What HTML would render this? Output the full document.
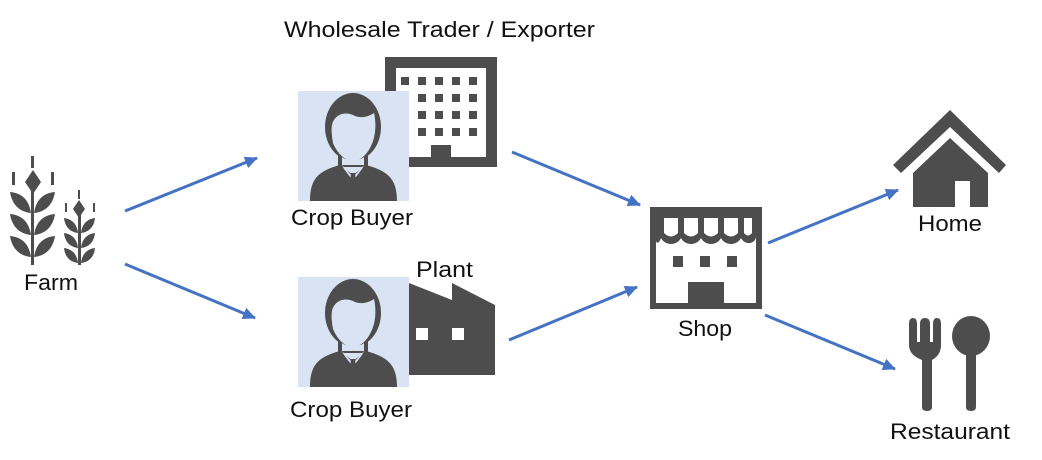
<!DOCTYPE html>
<html><head><style>
body{margin:0;background:#fff;}
svg{display:block;}
text{font-family:"Liberation Sans","Noto Sans CJK JP",sans-serif;font-size:22px;fill:#111;}
</style></head><body>
<svg width="1042" height="460" viewBox="0 0 1042 460">
<defs>
<marker id="a" markerWidth="14" markerHeight="12" refX="12" refY="6" orient="auto" markerUnits="userSpaceOnUse">
<path d="M0,0 L13,6 L0,12 z" fill="#4472c4"/></marker>
<g id="person">
<rect x="0" y="0" width="111" height="110" fill="#dae3f3"/>
<ellipse cx="55" cy="36" rx="28" ry="34" fill="#4d4d4d"/>
<path d="M40,64 L40,76 L70,76 L70,64 Z" fill="#4d4d4d"/>
<path d="M34,34 C36,24 46,20 55,24 C62,28 70,26 76,22 C78,30 78,42 75,50 C71,62 63,70 55,70 C47,70 39,62 35,52 C34,46 33,40 34,34 Z" fill="#dae3f3"/>
<path d="M44,66 L44,74 L66,74 L66,66 C62,70 48,70 44,66 Z" fill="#dae3f3"/>
<path d="M12,110 C12,88 20,80 42,74 L55,84 L68,74 C90,80 99,88 99,110 Z" fill="#4d4d4d"/>
<path d="M44,74 L55,86 L66,74 L64,78 L55,90 L46,78 Z" fill="#dae3f3"/>
<path d="M53,82 L57,82 L59,100 L55,106 L51,100 Z" fill="#4d4d4d"/>
</g>
</defs>

<g stroke="#4472c4" stroke-width="3" fill="none" marker-end="url(#a)">
<line x1="125" y1="211" x2="257" y2="158"/>
<line x1="125" y1="264" x2="255" y2="318"/>
<line x1="512" y1="152" x2="640" y2="205"/>
<line x1="509" y1="340" x2="637" y2="287"/>
<line x1="768" y1="243" x2="898" y2="190"/>
<line x1="765" y1="315" x2="895" y2="369"/>
</g>

<g fill="#4d4d4d">
<rect x="31" y="156" width="3" height="12"/>
<rect x="12" y="172" width="3" height="13"/>
<rect x="51" y="172" width="3" height="13"/>
<path d="M33,170 L41,182 L33,194 L25,182 Z"/>
<rect x="31" y="190" width="3" height="75"/>
<path d="M31,213 C20,212 12,205 10,192 C22,193 29,200 31,213 Z"/>
<path d="M34,213 C45,212 53,205 55,192 C43,193 36,200 34,213 Z"/>
<path d="M31,235 C20,234 12,227 10,214 C22,215 29,222 31,235 Z"/>
<path d="M34,235 C45,234 53,227 55,214 C43,215 36,222 34,235 Z"/>
<path d="M31,257 C20,256 12,249 10,236 C22,237 29,244 31,257 Z"/>
<path d="M34,257 C45,256 53,249 55,236 C43,237 36,244 34,257 Z"/>
<rect x="78" y="190" width="2" height="9"/>
<rect x="65" y="203" width="2" height="9"/>
<rect x="93" y="203" width="2" height="9"/>
<path d="M79,200 L85,209 L79,218 L73,209 Z"/>
<rect x="78" y="215" width="3" height="50"/>
<path d="M78,233 C70,232 65,227 64,218 C72,219 77,224 78,233 Z"/>
<path d="M81,233 C89,232 94,227 95,218 C87,219 82,224 81,233 Z"/>
<path d="M78,248 C70,247 65,242 64,233 C72,234 77,239 78,248 Z"/>
<path d="M81,248 C89,247 94,242 95,233 C87,234 82,239 81,248 Z"/>
<path d="M78,263 C70,262 65,257 64,248 C72,249 77,254 78,263 Z"/>
<path d="M81,263 C89,262 94,257 95,248 C87,249 82,254 81,263 Z"/>
</g>
<text x="24" y="290" textLength="54" lengthAdjust="spacingAndGlyphs">Farm</text>

<rect x="385" y="57" width="112" height="110" fill="#4d4d4d"/>
<rect x="396" y="68" width="90" height="89" fill="#fff"/>
<g fill="#4d4d4d">
<rect x="401" y="77" width="8" height="8"/><rect x="418" y="77" width="8" height="8"/><rect x="435" y="77" width="8" height="8"/><rect x="452" y="77" width="8" height="8"/><rect x="469" y="77" width="8" height="8"/>
<rect x="401" y="94" width="8" height="8"/><rect x="418" y="94" width="8" height="8"/><rect x="435" y="94" width="8" height="8"/><rect x="452" y="94" width="8" height="8"/><rect x="469" y="94" width="8" height="8"/>
<rect x="401" y="111" width="8" height="8"/><rect x="418" y="111" width="8" height="8"/><rect x="435" y="111" width="8" height="8"/><rect x="452" y="111" width="8" height="8"/><rect x="469" y="111" width="8" height="8"/>
<rect x="401" y="128" width="8" height="8"/><rect x="418" y="128" width="8" height="8"/><rect x="435" y="128" width="8" height="8"/><rect x="452" y="128" width="8" height="8"/><rect x="469" y="128" width="8" height="8"/>
<rect x="431" y="145" width="20" height="12"/>
</g>
<use href="#person" x="298" y="91"/>
<text x="291" y="225" textLength="122" lengthAdjust="spacingAndGlyphs">Crop Buyer</text>
<text x="284" y="37" textLength="311" lengthAdjust="spacingAndGlyphs">Wholesale Trader / Exporter</text>

<path d="M409,283 L452,300 L452,283 L495,305 L495,375 L409,375 Z" fill="#4d4d4d"/>
<rect x="416" y="328" width="12" height="12" fill="#fff"/>
<rect x="452" y="328" width="12" height="12" fill="#fff"/>
<use href="#person" x="298" y="277"/>
<text x="416" y="277" textLength="57" lengthAdjust="spacingAndGlyphs">Plant</text>
<text x="290" y="417" textLength="122" lengthAdjust="spacingAndGlyphs">Crop Buyer</text>

<rect x="650" y="207" width="112" height="102" fill="#4d4d4d"/>
<rect x="656" y="213" width="100" height="90" fill="#fff"/>
<path d="M656,213 L756,213 L756,236 C756,244 745,246 741,238 C737,246 725,246 721,238 C717,246 705,246 701,238 C697,246 685,246 681,238 C677,246 665,246 661,238 C659,244 656,244 656,240 Z" fill="#4d4d4d"/>
<g fill="#fff">
<path d="M664,218 L678,218 L678,233 Q671,240 664,233 Z"/>
<path d="M684,218 L698,218 L698,233 Q691,240 684,233 Z"/>
<path d="M704,218 L718,218 L718,233 Q711,240 704,233 Z"/>
<path d="M724,218 L738,218 L738,233 Q731,240 724,233 Z"/>
<path d="M744,218 L752,218 L752,233 Q748,238 744,233 Z"/>
</g>
<g fill="#4d4d4d">
<rect x="673" y="256" width="10" height="11"/><rect x="700" y="256" width="10" height="11"/><rect x="727" y="256" width="10" height="11"/>
<rect x="688" y="282" width="36" height="21"/>
</g>
<text x="678" y="336" textLength="54" lengthAdjust="spacingAndGlyphs">Shop</text>

<path d="M893,165 L950,110 L1006,165 L999,173 L950,127 L901,173 Z" fill="#4d4d4d"/>
<path d="M913,173 L950,138 L988,173 L988,207 L970,207 L970,181 L955,181 L955,207 L913,207 Z" fill="#4d4d4d"/>
<text x="918" y="231" textLength="64" lengthAdjust="spacingAndGlyphs">Home</text>

<g fill="#4d4d4d">
<path d="M909,324 Q909,318 913,318 Q917,318 917,324 L917,342 L920,342 L920,324 Q920,318 925,318 Q930,318 930,324 L930,342 L933,342 L933,324 Q933,318 937,318 Q941,318 941,324 L941,345 Q941,355 932,360 L932,407 Q932,411 927,411 Q922,411 922,407 L922,360 Q909,355 909,345 Z"/>
<ellipse cx="971" cy="336" rx="19" ry="20"/>
<path d="M966,350 L976,350 L976,407 Q976,411 971,411 Q966,411 966,407 Z"/>
</g>
<text x="890" y="439" textLength="120" lengthAdjust="spacingAndGlyphs">Restaurant</text>
</svg>
</body></html>
